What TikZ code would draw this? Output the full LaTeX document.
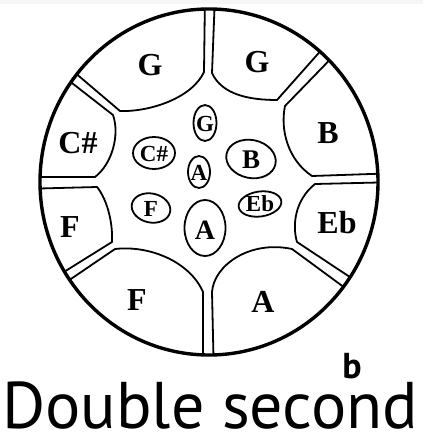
\documentclass[tikz,border=0pt]{standalone}
\usepackage{fontspec}
\setmainfont{Liberation Serif}
\newfontfamily\capfont{PT Sans}
\begin{document}
\begin{tikzpicture}[x=1pt,y=-1pt,
  padline/.style={line width=1.8pt,line join=round},
  rim/.style={line width=3.4pt},
  outerlbl/.style={font=\fontsize{32}{32}\selectfont\bfseries},
  innerlbl/.style={font=\fontsize{23}{23}\selectfont\bfseries,inner sep=0pt},
  oval/.style={draw,line width=1.8pt}]
\useasboundingbox (0,0) rectangle (423,441);
\fill[gray!7] (0,0) rectangle (423,4);
\begin{scope}
\clip (209,182) ellipse [x radius=169, y radius=173];
% top gap + top-left G pad
\draw[padline] (205,-5) -- (204,72) .. controls (192,98) and (150,112) .. (120,111) -- (60,60);
% top-right G pad
\draw[padline] (215,-5) -- (212,73) .. controls (222,95) and (250,100) .. (277,100) -- (340,29);
% B pad
\draw[padline] (349,40) -- (285,106) .. controls (280,130) and (288,160) .. (312,176) -- (400,173);
% Eb pad
\draw[padline] (400,182) -- (315,184) .. controls (295,200) and (292,225) .. (297,242) -- (380,297);
% A pad
\draw[padline] (375,310) -- (292,249) .. controls (250,240) and (214,265) .. (212,292) -- (214,380);
% F bottom pad
\draw[padline] (203,380) -- (203,292) .. controls (190,262) and (150,245) .. (115,249) -- (40,300);
% F left pad
\draw[padline] (35,290) -- (112,242) .. controls (113,220) and (106,198) .. (97,187) -- (20,189);
% C# pad
\draw[padline] (20,177) -- (95,177) .. controls (112,164) and (120,135) .. (113,115) -- (45,62);
\end{scope}
\draw[rim] (209,182) ellipse [x radius=169, y radius=173];
% outer labels
\node[outerlbl] (oG1) at (150,65) {G};
\node[outerlbl] (oG2) at (257,62) {G};
\node[outerlbl] (oB) at (328,133) {B};
\node[outerlbl] (oEb) at (337,223) {Eb};
\node[outerlbl] (oA) at (263,302) {A};
\node[outerlbl] (oF2) at (137,300) {F};
\node[outerlbl] (oF1) at (70,227) {F};
\node[outerlbl] (oC) at (78,143) {C\#};
% inner ovals
\draw[oval] (205,123) ellipse [x radius=11.5, y radius=18];
\node[innerlbl] (iG) at (205,124) {G};
\draw[oval] (154,153) ellipse [x radius=21, y radius=16];
\node[innerlbl] (iC) at (154,154) {C\#};
\draw[oval] (199,172) ellipse [x radius=11, y radius=16];
\node[innerlbl] (iA1) at (199,173) {A};
\draw[oval,rotate around={-12:(251,159)}] (251,159) ellipse [x radius=25, y radius=19];
\node[innerlbl,font=\fontsize{27}{27}\selectfont\bfseries] (iB) at (251,160) {B};
\draw[oval,rotate around={-12:(151,208)}] (151,208) ellipse [x radius=19.5, y radius=14.5];
\node[innerlbl] (iF) at (151,209) {F};
\draw[oval,rotate around={8:(260,204)}] (260,204) ellipse [x radius=21.5, y radius=12.5];
\node[innerlbl] (iEb) at (260,204) {Eb};
\draw[oval] (205,228) ellipse [x radius=20.5, y radius=28];
\node[innerlbl,font=\fontsize{28}{28}\selectfont\bfseries] (iA2) at (205,230) {A};
% caption
\node[font=\capfont\fontsize{36}{36}\selectfont\bfseries,anchor=base,inner sep=0pt] (b) at (352,378) {b};
\node[font=\capfont\fontsize{66}{66}\selectfont,anchor=base,inner sep=0pt] (cap) at (210,428) {Double second};
\end{tikzpicture}
\end{document}
